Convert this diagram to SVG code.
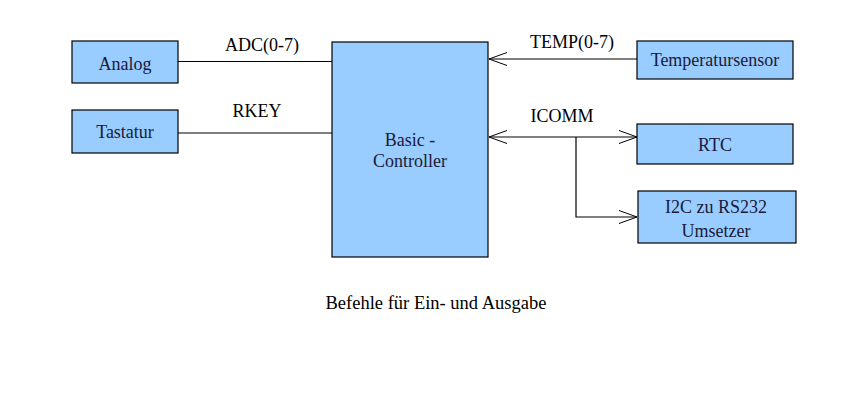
<svg xmlns="http://www.w3.org/2000/svg" width="856" height="413" viewBox="0 0 856 413">
<style>
.box{fill:#99ccff;stroke:#000;stroke-width:1.2}
.ln{stroke:#000;stroke-width:1.2;fill:none}
</style>
<defs>
<marker id="a" viewBox="0 0 18 16" refX="18" refY="8" markerWidth="18" markerHeight="16" markerUnits="userSpaceOnUse" orient="auto-start-reverse">
<path d="M0,1.5 L18,8 L0,14.5" fill="none" stroke="#000" stroke-width="1"/>
</marker>
</defs>
<rect width="856" height="413" fill="#fff"/>
<g id="connectors">
<line class="ln" x1="178" y1="61.5" x2="332" y2="61.5"/>
<line class="ln" x1="178" y1="133" x2="332" y2="133"/>
<line class="ln" x1="637" y1="59" x2="489" y2="59" marker-end="url(#a)"/>
<line class="ln" x1="489" y1="137" x2="637" y2="137" marker-start="url(#a)" marker-end="url(#a)"/>
<polyline class="ln" points="576,137 576,217 637,217" marker-end="url(#a)"/>
</g>
<g id="labels" font-family="Liberation Serif" font-size="18" text-anchor="middle" fill="#000">
<text x="262" y="51">ADC(0-7)</text>
<text x="257" y="117">RKEY</text>
<text x="572" y="48">TEMP(0-7)</text>
<text x="562" y="122">ICOMM</text>
<text x="436" y="309" font-size="18.5">Befehle für Ein- und Ausgabe</text>
</g>
<g font-family="Liberation Serif" font-size="18" text-anchor="middle" fill="#1a1a3a">
<g id="analog"><rect class="box" x="72" y="41" width="106" height="42"/><text x="125" y="69.5">Analog</text></g>
<g id="tastatur"><rect class="box" x="72" y="110" width="106" height="43"/><text x="125" y="138">Tastatur</text></g>
<g id="controller"><rect class="box" x="332" y="42" width="156" height="215"/><text x="410" y="145.5">Basic -</text><text x="410" y="167">Controller</text></g>
<g id="temperatursensor"><rect class="box" x="637" y="41" width="156" height="38"/><text x="715" y="66">Temperatursensor</text></g>
<g id="rtc"><rect class="box" x="637" y="124" width="156" height="40"/><text x="715" y="150.5">RTC</text></g>
<g id="i2c"><rect class="box" x="638" y="191" width="158" height="52"/><text x="716" y="213">I2C zu RS232</text><text x="716" y="236.5">Umsetzer</text></g>
</g>
</svg>
